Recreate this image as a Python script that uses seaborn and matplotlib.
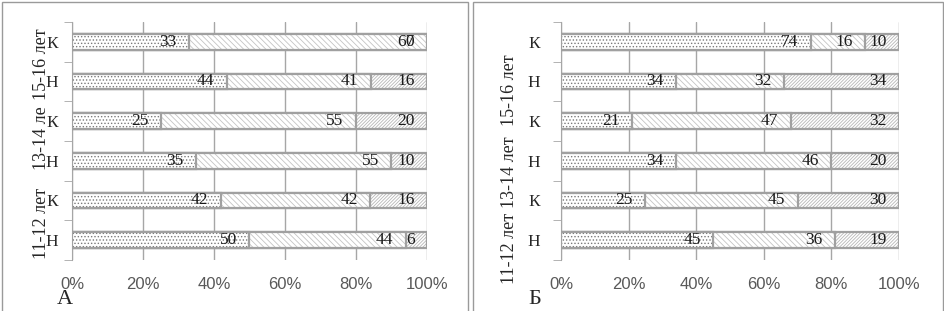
"""
Two 100% stacked horizontal bar panels (A and Б) with hatched segments
"""
import numpy as np
import pandas as pd
import matplotlib
matplotlib.use('Agg')
import matplotlib.pyplot as plt
from matplotlib.patches import Rectangle
import seaborn as sns

sns.set_style("white")
plt.rcParams['font.family'] = ['Liberation Serif', 'DejaVu Serif']
plt.rcParams['hatch.linewidth'] = 0.6

# rows from top to bottom
rows = ["К", "Н", "К", "Н", "К", "Н"]
groups = ["15-16 лет", "13-14 ле", "11-12 лет"]
groups_b = ["15-16 лет", "13-14 лет", "11-12 лет"]

a_first = [33, 44, 25, 35, 42, 50]
a_second = [67, 41, 55, 55, 42, 44]
a_third = [0, 16, 20, 10, 16, 6]

b_first = [74, 34, 21, 34, 25, 45]
b_second = [16, 32, 47, 46, 45, 36]
b_third = [10, 34, 32, 20, 30, 19]

xticks = [0, 20, 40, 60, 80, 100]
xtick_labels = ['0%', '20%', '40%', '60%', '80%', '100%']

EDGE = '#a0a0a0'
TICK_GRAY = '#595959'


def draw_panel(ax, first, second, third, ylab_pad):
    ids = [f"r{i}" for i in range(len(rows))]
    total = np.array(first) + np.array(second) + np.array(third)
    c1 = np.array(first) / total * 100
    c2 = (np.array(first) + np.array(second)) / total * 100
    c3 = np.full(len(rows), 100.0)

    # draw back to front: full bar, then first+second, then first
    styles = [(c3, '//////////', '#b8b8b8'),
              (c2, '\\\\\\\\\\\\', '#c4c4c4'),
              (c1, '.....', '#7a7a7a')]
    for cum, hatch, hcol in styles:
        df = pd.DataFrame({'row': ids, 'val': cum})
        sns.barplot(data=df, x='val', y='row', order=ids, orient='h', ax=ax,
                    width=0.4, color='white', saturation=1, edgecolor=hcol,
                    linewidth=0, hatch=hatch, zorder=3)
        sns.barplot(data=df, x='val', y='row', order=ids, orient='h', ax=ax,
                    width=0.4, color=EDGE, saturation=1, fill=False,
                    linewidth=1.6, zorder=3)

    # data labels, inside end of each segment
    for i in range(len(rows)):
        for end, val in [(c1[i], first[i]), (c2[i], second[i]), (c3[i], third[i])]:
            ax.annotate(str(val), xy=(end, i), xytext=(-9, 0), textcoords='offset points',
                        ha='right', va='center', fontsize=12.5, color='#1a1a1a', zorder=5)

    ax.set_xlim(0, 100)
    ax.set_ylim(len(rows) - 0.5, -0.5)
    ax.set_xticks(xticks)
    ax.set_xticklabels(xtick_labels, fontsize=12, color=TICK_GRAY,
                       fontfamily=['Liberation Sans', 'DejaVu Sans'])
    ax.tick_params(axis='x', length=0, pad=12)
    ax.set_yticks(range(len(rows)))
    ax.set_yticklabels(rows, fontsize=12.5)
    ax.set_yticks(np.arange(-0.5, len(rows), 1), minor=True)
    ax.tick_params(axis='y', which='major', length=0, pad=ylab_pad)
    ax.tick_params(axis='y', which='minor', length=6, color='#a6a6a6', direction='out', left=True)
    ax.grid(axis='x', color='#a6a6a6', linewidth=1, zorder=0)
    ax.set_axisbelow(True)
    ax.set_xlabel('')
    ax.set_ylabel('')
    for s in ['top', 'right', 'bottom']:
        ax.spines[s].set_visible(False)
    ax.spines['left'].set_color('#a6a6a6')


W, H = 945, 311
fig = plt.figure(figsize=(W / 100, H / 100), dpi=100)

ax_a = fig.add_axes([72 / W, 1 - 260 / H, (427 - 72) / W, (260 - 22) / H])
ax_b = fig.add_axes([561 / W, 1 - 260 / H, (899 - 561) / W, (260 - 22) / H])

draw_panel(ax_a, a_first, a_second, a_third, ylab_pad=10)
draw_panel(ax_b, b_first, b_second, b_third, ylab_pad=15)

# group labels (rotated)
for txt, yc in zip(groups, [64, 138, 223]):
    fig.text(42 / W, 1 - yc / H, txt, rotation=90, ha='center', va='center', fontsize=13)
for txt, yc in zip(groups_b, [90, 172, 248]):
    fig.text(510 / W, 1 - yc / H, txt, rotation=90, ha='center', va='center', fontsize=13)

# panel letters
fig.text(65 / W, 1 - 300 / H, 'А', ha='center', va='center', fontsize=16)
fig.text(535 / W, 1 - 300 / H, 'Б', ha='center', va='center', fontsize=16)

# panel frames
fig.add_artist(Rectangle((2 / W, -0.05), (468 - 2) / W, 1.05 - 2 / H,
                         transform=fig.transFigure, fill=False, ec='#9a9a9a', lw=1))
fig.add_artist(Rectangle((473 / W, -0.05), (943 - 473) / W, 1.05 - 2 / H,
                         transform=fig.transFigure, fill=False, ec='#9a9a9a', lw=1))

fig.savefig('out.png', dpi=100)
plt.close(fig)
